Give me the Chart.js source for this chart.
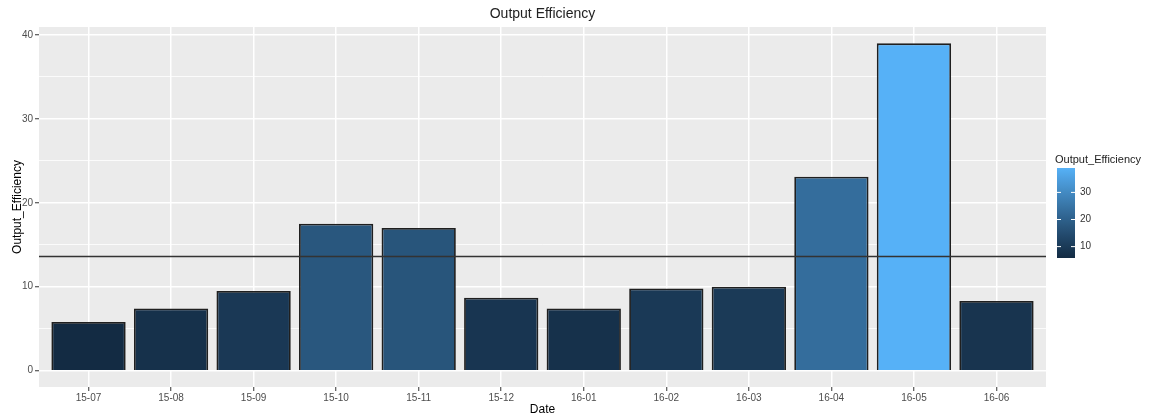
<!DOCTYPE html>
<html>
<head>
<meta charset="utf-8">
<script src="https://cdn.jsdelivr.net/npm/chart.js@4"></script>
<style>
  html, body { margin: 0; padding: 0; background: #fff; }
</style>
</head>
<body>
<canvas id="chart" width="1151" height="419"></canvas>
<script>
const dates = ["15-07", "15-08", "15-09", "15-10", "15-11", "15-12", "16-01", "16-02", "16-03", "16-04", "16-05", "16-06"];
const efficiency = [5.8, 7.4, 9.5, 17.5, 17.0, 8.7, 7.4, 9.8, 10.0, 23.1, 39.0, 8.3];
const meanLine = 13.6;
const yTicks = [0, 5, 10, 15, 20, 25, 30, 35, 40];
const legendTicks = [10, 20, 30];

const X_MIN = 0.4, X_MAX = 12.6;
const FONT = "'Liberation Sans', Arial, sans-serif";
const LOW = "#132B43", HIGH = "#56B1F7";

// ggplot-like gradient, interpolated in Lab
function hexToRgb(h) {
  const n = parseInt(h.slice(1), 16);
  return [(n >> 16) & 255, (n >> 8) & 255, n & 255];
}
function toLin(c) { c /= 255; return c <= 0.04045 ? c / 12.92 : Math.pow((c + 0.055) / 1.055, 2.4); }
function fromLin(c) {
  const v = c <= 0.0031308 ? 12.92 * c : 1.055 * Math.pow(c, 1 / 2.4) - 0.055;
  return Math.round(Math.max(0, Math.min(1, v)) * 255);
}
const WX = 0.95047, WZ = 1.08883;
function rgbToLab(rgb) {
  const [r, g, b] = rgb.map(toLin);
  const x = (r * 0.4124 + g * 0.3576 + b * 0.1805) / WX;
  const y = r * 0.2126 + g * 0.7152 + b * 0.0722;
  const z = (r * 0.0193 + g * 0.1192 + b * 0.9505) / WZ;
  const f = (t) => (t > 0.008856 ? Math.cbrt(t) : 7.787 * t + 16 / 116);
  const fx = f(x), fy = f(y), fz = f(z);
  return [116 * fy - 16, 500 * (fx - fy), 200 * (fy - fz)];
}
function labToRgb([L, a, bb]) {
  const fy = (L + 16) / 116, fx = fy + a / 500, fz = fy - bb / 200;
  const inv = (t) => (t > 0.206893 ? t * t * t : (t - 16 / 116) / 7.787);
  const x = inv(fx) * WX, y = inv(fy), z = inv(fz) * WZ;
  const r = x * 3.2406 + y * -1.5372 + z * -0.4986;
  const g = x * -0.9689 + y * 1.8758 + z * 0.0415;
  const b = x * 0.0557 + y * -0.204 + z * 1.057;
  return `rgb(${fromLin(r)},${fromLin(g)},${fromLin(b)})`;
}
const labLow = rgbToLab(hexToRgb(LOW));
const labHigh = rgbToLab(hexToRgb(HIGH));
const vMin = Math.min(...efficiency), vMax = Math.max(...efficiency);
function colorFor(v) {
  const t = (v - vMin) / (vMax - vMin);
  return labToRgb(labLow.map((c, i) => c + (labHigh[i] - c) * t));
}

const panelBg = {
  id: "panelBg",
  beforeDraw(chart) {
    const { ctx, chartArea: a } = chart;
    ctx.save();
    ctx.fillStyle = "#EBEBEB";
    ctx.fillRect(a.left, a.top, a.right - a.left, a.bottom - a.top);
    ctx.restore();
  },
};

const decorations = {
  id: "decorations",
  afterDraw(chart) {
    const { ctx, chartArea: a } = chart;
    ctx.save();
    // title
    ctx.fillStyle = "#222";
    ctx.font = `14px ${FONT}`;
    ctx.textAlign = "center";
    ctx.textBaseline = "middle";
    ctx.fillText("Output Efficiency", (a.left + a.right) / 2, 14);

    // colourbar legend
    const bx = 1057, bw = 18, top = 168, bottom = 258;
    ctx.font = `11px ${FONT}`;
    ctx.textAlign = "left";
    ctx.textBaseline = "alphabetic";
    ctx.fillStyle = "#222";
    ctx.fillText("Output_Efficiency", 1055, 163);

    const grad = ctx.createLinearGradient(0, bottom, 0, top);
    for (let i = 0; i <= 20; i++) {
      const v = vMin + (vMax - vMin) * (i / 20);
      grad.addColorStop(i / 20, colorFor(v));
    }
    ctx.fillStyle = grad;
    ctx.fillRect(bx, top, bw, bottom - top);

    ctx.font = `10px ${FONT}`;
    ctx.textBaseline = "middle";
    legendTicks.forEach((t) => {
      const y = bottom - ((t - vMin) / (vMax - vMin)) * (bottom - top);
      ctx.strokeStyle = "#fff";
      ctx.lineWidth = 1;
      ctx.beginPath();
      ctx.moveTo(bx, y); ctx.lineTo(bx + 4, y);
      ctx.moveTo(bx + bw - 4, y); ctx.lineTo(bx + bw, y);
      ctx.stroke();
      ctx.fillStyle = "#333";
      ctx.fillText(String(t), bx + bw + 5, y);
    });
    ctx.restore();
  },
};

new Chart(document.getElementById("chart"), {
  data: {
    datasets: [
      {
        type: "line",
        data: [{ x: X_MIN, y: meanLine }, { x: X_MAX, y: meanLine }],
        borderColor: "#333",
        borderWidth: 1.7,
        pointRadius: 0,
        order: 0,
      },
      {
        type: "bar",
        data: efficiency.map((v, i) => ({ x: i + 1, y: v })),
        backgroundColor: efficiency.map(colorFor),
        borderColor: "#1f1f1f",
        borderWidth: 1.8,
        barPercentage: 0.9,
        categoryPercentage: 1,
        order: 1,
      },
    ],
  },
  options: {
    responsive: false,
    animation: false,
    devicePixelRatio: 1,
    layout: { padding: { top: 27, right: 105, left: 0, bottom: 0 } },
    plugins: { legend: { display: false }, tooltip: { enabled: false } },
    scales: {
      x: {
        type: "linear",
        min: X_MIN,
        max: X_MAX,
        offset: false,
        afterBuildTicks: (s) => { s.ticks = dates.map((_, i) => ({ value: i + 1 })); },
        afterFit: (s) => { s.height = 32; },
        border: { display: false },
        grid: { offset: false, color: "#fff", lineWidth: 1.5, tickColor: "#333", tickLength: 4, tickWidth: 1 },
        ticks: {
          autoSkip: false,
          maxRotation: 0,
          padding: 1,
          color: "#4D4D4D",
          font: { family: FONT, size: 10 },
          callback: (v) => dates[Math.round(v) - 1] || "",
        },
        title: {
          display: true,
          text: "Date",
          color: "#000",
          font: { family: FONT, size: 12 },
          padding: { top: 0, bottom: 2 },
        },
      },
      y: {
        type: "linear",
        min: -1.95,
        max: 40.95,
        afterBuildTicks: (s) => { s.ticks = yTicks.map((v) => ({ value: v })); },
        afterFit: (s) => { s.width = 39; },
        border: { display: false },
        grid: {
          color: "#fff",
          lineWidth: (c) => (c.tick && c.tick.value % 10 === 0 ? 1.5 : 0.8),
          tickColor: (c) => (c.tick && c.tick.value % 10 === 0 ? "#333" : "rgba(0,0,0,0)"),
          tickLength: 4,
          tickWidth: 1,
        },
        ticks: {
          padding: 2,
          color: "#4D4D4D",
          font: { family: FONT, size: 10 },
          callback: (v) => (v % 10 === 0 ? String(v) : ""),
        },
        title: {
          display: true,
          text: "Output_Efficiency",
          color: "#000",
          font: { family: FONT, size: 12 },
          padding: { top: 10, bottom: 0 },
        },
      },
    },
  },
  plugins: [panelBg, decorations],
});
</script>
</body>
</html>
